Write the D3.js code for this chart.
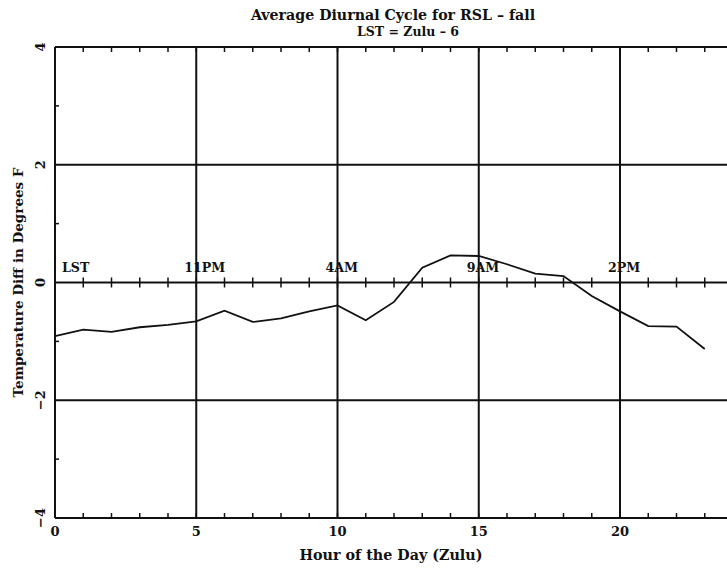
<!DOCTYPE html>
<html><head><meta charset="utf-8">
<script src="https://cdn.jsdelivr.net/npm/d3@7"></script>
<style>body{margin:0;background:#fff}svg{display:block}text{font-family:"DejaVu Serif",serif;font-weight:bold;fill:#111}</style>
</head><body>
<svg id="c" width="727" height="572"></svg>
<script>
const hours = d3.range(0, 24);
const tempDiff = [-0.91,-0.80,-0.84,-0.76,-0.72,-0.66,-0.48,-0.67,-0.61,-0.49,-0.39,-0.64,-0.33,0.25,0.46,0.45,0.31,0.15,0.11,-0.23,-0.49,-0.74,-0.75,-1.13];
const xTicks = [0,5,10,15,20];
const yTicks = [-4,-2,0,2,4];
const lstLabels = ["LST","11PM","4AM","9AM","2PM"];
const title = "Average Diurnal Cycle for RSL \u2013 fall";
const subtitle = "LST = Zulu \u2013 6";

const svg = d3.select("#c");
const x = d3.scaleLinear().domain([0,24]).range([55,733]);
const y = d3.scaleLinear().domain([-4,4]).range([518,47]);
const ink = "#111";

// gridlines
svg.append("g").selectAll("line").data(xTicks.slice(1)).join("line")
  .attr("x1",d=>x(d)).attr("x2",d=>x(d)).attr("y1",y(4)).attr("y2",y(-4))
  .attr("stroke",ink).attr("stroke-width",2);
svg.append("g").selectAll("line").data([2,0,-2]).join("line")
  .attr("x1",x(0)).attr("x2",727).attr("y1",d=>y(d)).attr("y2",d=>y(d))
  .attr("stroke",ink).attr("stroke-width",2);

// borders
svg.append("line").attr("x1",x(0)).attr("x2",727).attr("y1",y(4)).attr("y2",y(4)).attr("stroke",ink).attr("stroke-width",2);
svg.append("line").attr("x1",x(0)).attr("x2",727).attr("y1",y(-4)).attr("y2",y(-4)).attr("stroke",ink).attr("stroke-width",2);
svg.append("line").attr("x1",x(0)).attr("x2",x(0)).attr("y1",y(4)).attr("y2",y(-4)).attr("stroke",ink).attr("stroke-width",2);

// minor ticks on top, bottom, zero line
const minor = d3.range(1,24);
svg.append("g").selectAll("line").data(minor).join("line")
  .attr("x1",d=>x(d)).attr("x2",d=>x(d)).attr("y1",y(4)).attr("y2",y(4)+5).attr("stroke",ink).attr("stroke-width",1.5);
svg.append("g").selectAll("line").data(minor).join("line")
  .attr("x1",d=>x(d)).attr("x2",d=>x(d)).attr("y1",y(-4)).attr("y2",y(-4)-5).attr("stroke",ink).attr("stroke-width",1.5);
svg.append("g").selectAll("line").data(minor).join("line")
  .attr("x1",d=>x(d)).attr("x2",d=>x(d)).attr("y1",y(0)-5).attr("y2",y(0)+5).attr("stroke",ink).attr("stroke-width",1.5);
// y minor ticks
svg.append("g").selectAll("line").data([-3,-1,1,3]).join("line")
  .attr("x1",x(0)).attr("x2",x(0)+4).attr("y1",d=>y(d)).attr("y2",d=>y(d)).attr("stroke",ink).attr("stroke-width",1.5);

// local time labels
svg.append("g").selectAll("text").data(xTicks).join("text")
  .attr("x",(d,i)=> i===0 ? x(d)+7 : x(d)-12).attr("y",y(0)-11)
  .attr("text-anchor","start")
  .attr("font-size",12.6).text((d,i)=>lstLabels[i]);

// data line
svg.append("path").datum(hours.map((h,i)=>[h,tempDiff[i]]))
  .attr("d",d3.line().x(d=>x(d[0])).y(d=>y(d[1])))
  .attr("fill","none").attr("stroke",ink).attr("stroke-width",1.8);

// x tick labels
svg.append("g").selectAll("text").data(xTicks).join("text")
  .attr("x",d=>x(d)).attr("y",536).attr("text-anchor","middle").attr("font-size",13).text(d=>d);
// y tick labels (rotated)
svg.append("g").selectAll("text").data(yTicks).join("text")
  .attr("transform",d=>`translate(45,${y(d)}) rotate(-90)`).attr("text-anchor","middle").attr("font-size",13)
  .text(d=>d<0 ? "\u2212"+Math.abs(d) : d);

// titles
svg.append("text").attr("x",393).attr("y",20).attr("text-anchor","middle").attr("font-size",14.2).text(title);
svg.append("text").attr("x",408).attr("y",36).attr("text-anchor","middle").attr("font-size",12.5).text(subtitle);
svg.append("text").attr("x",391).attr("y",560).attr("text-anchor","middle").attr("font-size",14.3).text("Hour of the Day (Zulu)");
svg.append("text").attr("transform",`translate(23,${y(0)}) rotate(-90)`).attr("text-anchor","middle").attr("font-size",13.5)
  .text("Temperature Diff in Degrees F");
</script>
</body></html>
